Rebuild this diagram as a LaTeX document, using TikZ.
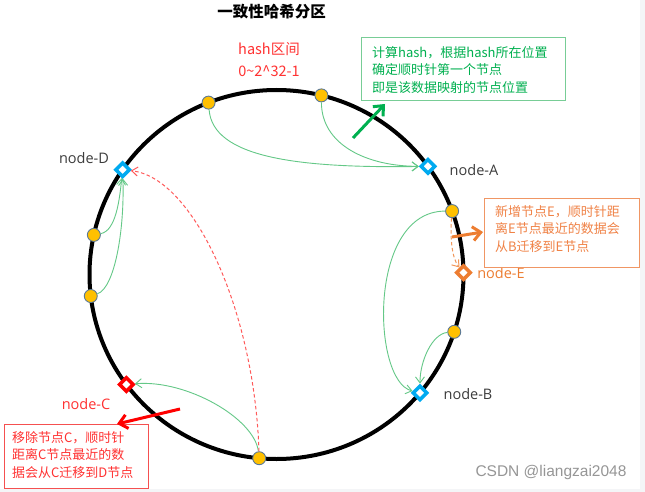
\documentclass[tikz,border=0pt]{standalone}
\usepackage{fontspec}
\setmainfont{Noto Sans CJK SC}
\newfontfamily\labfont{Open Sans}
\newfontfamily\wmfont{Liberation Sans}
\usetikzlibrary{arrows.meta,shapes.geometric,calc}
\definecolor{dotfill}{RGB}{255,192,0}
\definecolor{dotedge}{RGB}{90,120,150}
\definecolor{nodeblue}{RGB}{0,170,240}
\definecolor{nodered}{RGB}{255,0,0}
\definecolor{nodeorange}{RGB}{237,125,49}
\definecolor{thingreen}{RGB}{100,200,135}
\definecolor{txtgreen}{RGB}{0,176,80}
\definecolor{boxgreen}{RGB}{120,205,150}
\definecolor{txtorange}{RGB}{240,130,70}
\definecolor{boxorange}{RGB}{240,150,100}
\definecolor{txtred}{RGB}{255,50,50}
\definecolor{boxred}{RGB}{245,80,80}
\definecolor{dashred}{RGB}{255,90,90}
\definecolor{labgray}{RGB}{60,60,60}
\definecolor{wmgray}{RGB}{150,150,150}
\definecolor{strip}{RGB}{244,245,247}
\begin{document}
\begin{tikzpicture}[x=1pt,y=-1pt,
  dot/.style={circle,fill=dotfill,draw=dotedge,line width=0.9pt,minimum size=13pt,inner sep=0pt},
  ringnode/.style={diamond,fill=white,draw=#1,line width=3.5pt,minimum size=15pt,inner sep=0pt},
  nlabel/.style={font=\labfont\fontsize{14.5}{16}\selectfont,text=labgray,inner sep=0pt},
  thin/.style={thingreen,line width=0.9pt,-{Straight Barb[length=6pt,width=9pt]}},
  boxtext/.style={anchor=west,align=left,inner sep=0pt,font=\fontsize{13}{17.5}\selectfont},
  thick/.style={line width=3pt,-{Straight Barb[length=8pt,width=14pt,line width=3pt]}}
]
\useasboundingbox (0,0) rectangle (645,492);
\fill[white] (0,0) rectangle (645,492);
\fill[strip] (640,0) rectangle (645,492);
\fill[strip] (0,489) rectangle (645,492);
\coordinate (O) at (276.5,274.5);

% title and range
\node[font=\bfseries\fontsize{15.5}{18}\selectfont,inner sep=0pt] (title) at (271.5,12) {一致性哈希分区};
\node[font=\fontsize{14.5}{16}\selectfont,text=txtred,inner sep=0pt] (range1) at (269,49) {hash区间};
\node[font=\fontsize{14.5}{16}\selectfont,text=txtred,inner sep=0pt] (range2) at (269,71) {0\textasciitilde2\textasciicircum32-1};

% ring
\draw[line width=4pt] (O) ellipse[x radius=187, y radius=184.5];

% data points
\node[dot] (d1) at ($(O)+(-111.3:187 and 184.5)$) {};
\node[dot] (d2) at ($(O)+(-76.1:187 and 184.5)$) {};
\node[dot] (d3) at ($(O)+(-20.1:187 and 184.5)$) {};
\node[dot] (d4) at ($(O)+(18.1:187 and 184.5)$) {};
\node[dot] (d5) at ($(O)+(95.3:187 and 184.5)$) {};
\node[dot] (d6) at ($(O)+(173.3:187 and 184.5)$) {};
\node[dot] (d7) at ($(O)+(192.4:187 and 184.5)$) {};

% ring nodes
\node[ringnode=nodeblue] (nA) at ($(O)+(-35.9:187 and 184.5)$) {};
\node[ringnode=nodeblue] (nB) at ($(O)+(39.9:187 and 184.5)$) {};
\node[ringnode=nodeblue] (nD) at ($(O)+(214.6:187 and 184.5)$) {};
\node[ringnode=nodered] (nC) at ($(O)+(143.4:187 and 184.5)$) {};
\node[ringnode=nodeorange] (nE) at ($(O)+(-0.6:187 and 184.5)$) {};

\node[nlabel] (lA) at (474,170) {node-A};
\node[nlabel] (lB) at (468,394) {node-B};
\node[nlabel] (lD) at (84,158) {node-D};
\node[nlabel,text=txtred] (lC) at (86,404) {node-C};
\node[nlabel,text=nodeorange] (lE) at (501,273) {node-E};

% green mapping arrows
\draw[thin] (d1) .. controls ($(d1)+(4,55)$) and ($(nA)+(-130,2)$) .. (nA);
\draw[thin] (d2) .. controls ($(d2)+(0,50)$) and ($(nA)+(-60,0)$) .. (nA);
\draw[thin] (d7) .. controls ($(d7)+(22,-4)$) and ($(nD)+(-3,30)$) .. (nD);
\draw[thin] (d6) .. controls ($(d6)+(24,-8)$) and ($(nD)+(2,60)$) .. (nD);
\draw[thin] (d3) .. controls ($(d3)+(-85,0)$) and ($(nB)+(-48,-12)$) .. (nB);
\draw[thin] (d4) .. controls ($(d4)+(-22,2)$) and ($(nB)+(0,-32)$) .. (nB);
\draw[thin] (d5) .. controls ($(d5)+(-5,-40)$) and ($(nC)+(60,-5)$) .. (nC);

% dashed migration arrows
\draw[dashred,line width=1pt,dash pattern=on 3.5pt off 2.5pt,-{Straight Barb[length=6pt,width=9pt]}]
  (d5) .. controls ($(d5)+(-5,-150)$) and ($(nD)+(70,8)$) .. (nD);
\draw[nodeorange!80,line width=1pt,dash pattern=on 3.5pt off 2.5pt,-{Straight Barb[length=6pt,width=9pt]}]
  (d3) .. controls ($(d3)+(-2,25)$) and ($(nE)+(-12,-15)$) .. (nE);

% green callout
\node[draw=boxgreen,line width=1pt,minimum width=204pt,minimum height=63pt,inner sep=0pt] (gbox) at (463,69.5) {};
\node[boxtext,text=txtgreen] (gtext) at (372,70) {计算hash，根据hash所在位置\\确定顺时针第一个节点\\即是该数据映射的节点位置};
\coordinate (ga1) at (353,138);
\coordinate (ga2) at (385,104);
\draw[thick,txtgreen] (ga1) -- (ga2);

% orange callout
\node[draw=boxorange,line width=1pt,minimum width=155pt,minimum height=69pt,inner sep=0pt] (obox) at (561.5,232.5) {};
\node[boxtext,text=txtorange] (otext) at (495,229) {新增节点E，顺时针距\\离E节点最近的数据会\\从B迁移到E节点};
\coordinate (oa1) at (452,237);
\coordinate (oa2) at (483,232);
\draw[thick,nodeorange] (oa1) -- (oa2);

% red callout
\node[draw=boxred,line width=1pt,minimum width=144pt,minimum height=64pt,inner sep=0pt] (rbox) at (76,456) {};
\node[boxtext,text=txtred] (rtext) at (12,455) {移除节点C，顺时针\\距离C节点最近的数\\据会从C迁移到D节点};
\coordinate (ra1) at (180,409);
\coordinate (ra2) at (117,424);
\draw[thick,nodered] (ra1) -- (ra2);

% watermark
\node[font=\wmfont\fontsize{15.5}{17}\selectfont,text=wmgray,inner sep=0pt] (wm) at (551,472) {CSDN @liangzai2048};
\end{tikzpicture}
\end{document}
